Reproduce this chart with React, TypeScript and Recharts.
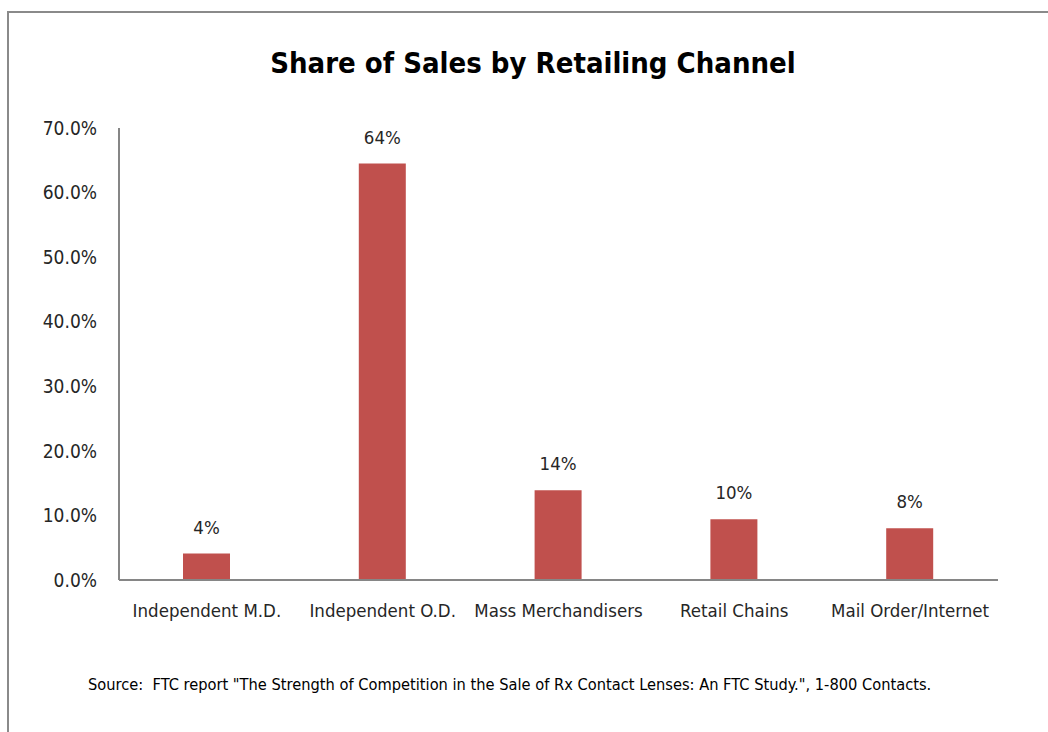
import React from "react";
import { BarChart, Bar, XAxis, YAxis, LabelList } from "recharts";

const categories = [
  "Independent M.D.",
  "Independent O.D.",
  "Mass Merchandisers",
  "Retail Chains",
  "Mail Order/Internet",
];
const shareValues = [4.1, 64.5, 13.9, 9.4, 8.0];
const valueLabels = ["4%", "64%", "14%", "10%", "8%"];
const yTicks = [0, 10, 20, 30, 40, 50, 60, 70];

const data = categories.map((name, i) => ({
  name,
  value: shareValues[i],
  label: valueLabels[i],
}));

const FONT = "'Liberation Sans Narrow', 'DejaVu Sans Condensed', 'Liberation Sans', sans-serif";

const renderLabel = (props: any) => {
  const { x, y, width, index } = props;
  return (
    <text
      x={x + width / 2}
      y={y - 20}
      textAnchor="middle"
      fontSize={18.5}
      fontFamily={FONT}
      fill="#262626"
    >
      {valueLabels[index]}
    </text>
  );
};

export default function App() {
  return (
    <div
      style={{
        position: "absolute",
        left: 0,
        top: 0,
        width: 1048,
        height: 732,
        background: "#fff",
        overflow: "hidden",
      }}
    >
      <div
        style={{
          position: "absolute",
          left: 7,
          top: 11,
          width: 1100,
          height: 800,
          border: "2px solid #8a8a8a",
          boxSizing: "border-box",
        }}
      />
      <div
        style={{
          position: "absolute",
          left: 0,
          top: 46,
          width: 1066,
          textAlign: "center",
          fontFamily: FONT,
          fontWeight: "bold",
          fontSize: 29,
          color: "#000",
        }}
      >
        Share of Sales by Retailing Channel
      </div>
      <div style={{ position: "absolute", left: 0, top: 0 }}>
        <BarChart
          width={1048}
          height={732}
          data={data}
          margin={{ top: 128, right: 50, bottom: 122, left: 39 }}
        >
          <XAxis
            dataKey="name"
            axisLine={{ stroke: "#868686", strokeWidth: 2 }}
            tickLine={false}
            height={30}
            tick={{ fontSize: 18.5, fontFamily: FONT, fill: "#262626" }}
            tickMargin={18}
            interval={0}
          />
          <YAxis
            domain={[0, 70]}
            ticks={yTicks}
            width={80}
            axisLine={{ stroke: "#868686", strokeWidth: 2 }}
            tickLine={false}
            tickFormatter={(v: number) => `${v.toFixed(1)}%`}
            tick={{ fontSize: 19, fontFamily: FONT, fill: "#262626" }}
            tickMargin={16}
          />
          <Bar dataKey="value" fill="#C0504D" barSize={47} isAnimationActive={false}>
            <LabelList dataKey="label" content={renderLabel} />
          </Bar>
        </BarChart>
      </div>
      <div
        style={{
          position: "absolute",
          left: 88,
          top: 675,
          width: 900,
          fontFamily: FONT,
          fontSize: 16.3,
          color: "#000",
          whiteSpace: "nowrap",
        }}
      >
        Source:&nbsp;&nbsp;FTC report "The Strength of Competition in the Sale of Rx Contact Lenses: An FTC Study.", 1-800 Contacts.
      </div>
    </div>
  );
}
